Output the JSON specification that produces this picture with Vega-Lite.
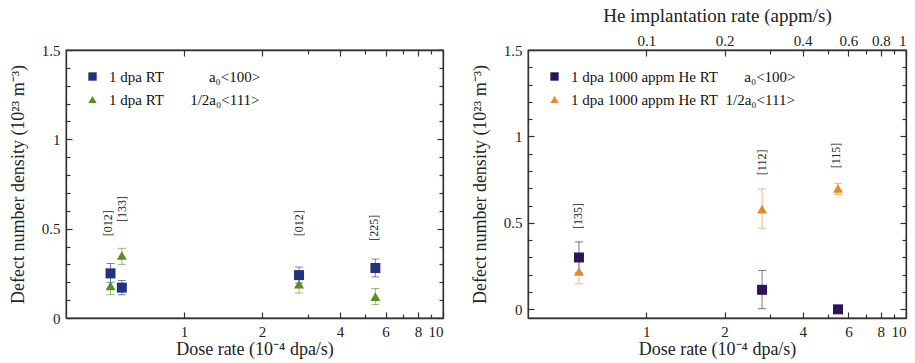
{
  "$schema": "https://vega.github.io/schema/vega-lite/v6.json",
  "padding": {"left": 8, "top": 5, "right": 0, "bottom": 0},
  "datasets": {
    "left": [
      {"loop": "a₀<100>", "dose": 0.52, "density": 0.25, "lo": 0.2, "hi": 0.305},
      {"loop": "a₀<100>", "dose": 0.575, "density": 0.17, "lo": 0.13, "hi": 0.21},
      {"loop": "a₀<100>", "dose": 2.78, "density": 0.24, "lo": 0.195, "hi": 0.285},
      {"loop": "a₀<100>", "dose": 5.48, "density": 0.28, "lo": 0.23, "hi": 0.33},
      {"loop": "1/2a₀<111>", "dose": 0.52, "density": 0.18, "lo": 0.13, "hi": 0.225},
      {"loop": "1/2a₀<111>", "dose": 0.575, "density": 0.35, "lo": 0.3, "hi": 0.39},
      {"loop": "1/2a₀<111>", "dose": 2.78, "density": 0.19, "lo": 0.14, "hi": 0.235},
      {"loop": "1/2a₀<111>", "dose": 5.48, "density": 0.12, "lo": 0.075, "hi": 0.165}
    ],
    "leftLabels": [
      {"dose": 0.51, "ypos": 0.53, "text": "[012]"},
      {"dose": 0.575, "ypos": 0.61, "text": "[133]"},
      {"dose": 2.78, "ypos": 0.53, "text": "[012]"},
      {"dose": 5.43, "ypos": 0.505, "text": "[225]"}
    ],
    "right": [
      {"loop": "a₀<100>", "dose": 0.55, "he": 0.055, "density": 0.3, "lo": 0.21, "hi": 0.39},
      {"loop": "a₀<100>", "dose": 2.79, "he": 0.279, "density": 0.113, "lo": 0.004, "hi": 0.225},
      {"loop": "a₀<100>", "dose": 5.47, "he": 0.547, "density": 0.0, "lo": 0.0, "hi": 0.0},
      {"loop": "1/2a₀<111>", "dose": 0.55, "he": 0.055, "density": 0.22, "lo": 0.148, "hi": 0.287},
      {"loop": "1/2a₀<111>", "dose": 2.79, "he": 0.279, "density": 0.58, "lo": 0.469, "hi": 0.696},
      {"loop": "1/2a₀<111>", "dose": 5.47, "he": 0.547, "density": 0.7, "lo": 0.664, "hi": 0.729}
    ],
    "rightLabels": [
      {"dose": 0.546, "ypos": 0.54, "text": "[135]"},
      {"dose": 2.79, "ypos": 0.85, "text": "[112]"},
      {"dose": 5.39, "ypos": 0.89, "text": "[115]"}
    ]
  },
  "hconcat": [
    {
      "width": 377,
      "height": 268,
      "data": {"name": "left"},
      "layer": [
        {
          "mark": {"type": "point", "filled": true, "size": 100, "opacity": 0},
          "encoding": {
            "x": {"field": "dose", "type": "quantitative", "scale": {"type": "log", "domain": [0.35, 10], "nice": false},
              "axis": {"orient": "bottom", "values": [1, 2, 4, 6, 8, 10], "format": "~g", "tickSize": -6, "labelPadding": 12, "title": "Dose rate (10⁻⁴ dpa/s)", "titlePadding": 1}},
            "y": {"field": "density", "type": "quantitative", "scale": {"domain": [0, 1.5], "nice": false, "zero": false},
              "axis": {"orient": "left", "values": [0, 0.5, 1, 1.5], "format": "~g", "tickSize": -6, "labelPadding": 12, "title": "Defect number density (10²³ m⁻³)", "titlePadding": 14}},
            "color": {"field": "loop", "type": "nominal", "scale": {"domain": ["a₀<100>", "1/2a₀<111>"], "range": ["#23327e", "#5a8e22"]},
              "legend": {"orient": "none", "legendX": 19, "legendY": 19, "title": null, "padding": 0, "rowPadding": 7, "symbolSize": 70, "symbolOpacity": 1, "labelOffset": 9, "labelFontSize": 15, "labelFont": "Liberation Serif", "labelColor": "#111", "labelLimit": 400, "symbolStrokeWidth": 0,
              "labelExpr": "'1 dpa RT' + (datum.value == 'a₀<100>' ? '\u00a0\u00a0\u00a0\u00a0\u00a0\u00a0\u00a0\u00a0\u00a0\u00a0\u00a0\u00a0' : '\u00a0\u00a0\u00a0\u00a0\u00a0\u00a0\u00a0') + datum.label"}},
            "shape": {"field": "loop", "type": "nominal", "scale": {"domain": ["a₀<100>", "1/2a₀<111>"], "range": ["square", "triangle-up"]},
              "legend": {"orient": "none", "legendX": 19, "legendY": 19, "title": null, "padding": 0, "rowPadding": 7, "symbolSize": 70, "symbolOpacity": 1, "labelOffset": 9, "labelFontSize": 15, "labelFont": "Liberation Serif", "labelColor": "#111", "labelLimit": 400, "symbolStrokeWidth": 0,
              "labelExpr": "'1 dpa RT' + (datum.value == 'a₀<100>' ? '\u00a0\u00a0\u00a0\u00a0\u00a0\u00a0\u00a0\u00a0\u00a0\u00a0\u00a0\u00a0' : '\u00a0\u00a0\u00a0\u00a0\u00a0\u00a0\u00a0') + datum.label"}}
          }
        },
        {
          "mark": {"type": "point", "opacity": 0},
          "encoding": {
            "x": {"field": "dose", "type": "quantitative", "axis": {"orient": "top", "values": [1, 2, 4, 6, 8, 10], "tickSize": -6, "labels": false, "title": null}},
            "y": {"field": "density", "type": "quantitative", "axis": {"orient": "right", "values": [0, 0.5, 1, 1.5], "tickSize": -6, "labels": false, "title": null}}
          }
        },
        {
          "mark": {"type": "point", "opacity": 0},
          "encoding": {
            "x": {"field": "dose", "type": "quantitative", "axis": {"orient": "bottom", "values": [3, 5, 7, 9], "tickSize": -4, "labels": false, "title": null, "domain": false}},
            "y": {"field": "density", "type": "quantitative", "axis": {"orient": "left", "values": [0.1, 0.2, 0.3, 0.4, 0.6, 0.7, 0.8, 0.9, 1.1, 1.2, 1.3, 1.4], "tickSize": -4, "labels": false, "title": null, "domain": false}}
          }
        },
        {
          "mark": {"type": "point", "opacity": 0},
          "encoding": {
            "x": {"field": "dose", "type": "quantitative", "axis": {"orient": "top", "values": [3, 5, 7, 9], "tickSize": -4, "labels": false, "title": null, "domain": false}},
            "y": {"field": "density", "type": "quantitative", "axis": {"orient": "right", "values": [0.1, 0.2, 0.3, 0.4, 0.6, 0.7, 0.8, 0.9, 1.1, 1.2, 1.3, 1.4], "tickSize": -4, "labels": false, "title": null, "domain": false}}
          }
        },
        {
          "mark": {"type": "rule", "strokeWidth": 1, "opacity": 0.6},
          "encoding": {
            "x": {"field": "dose", "type": "quantitative", "axis": null},
            "y": {"field": "lo", "type": "quantitative", "axis": null},
            "y2": {"field": "hi"},
            "stroke": {"field": "loop", "type": "nominal", "scale": {"domain": ["a₀<100>", "1/2a₀<111>"], "range": ["#23327e", "#5a8e22"]}, "legend": null}
          }
        },
        {
          "mark": {"type": "point", "shape": "stroke", "size": 64, "strokeWidth": 1, "opacity": 0.6},
          "encoding": {
            "x": {"field": "dose", "type": "quantitative", "axis": null},
            "y": {"field": "lo", "type": "quantitative", "axis": null},
            "stroke": {"field": "loop", "type": "nominal", "legend": null}
          }
        },
        {
          "mark": {"type": "point", "shape": "stroke", "size": 64, "strokeWidth": 1, "opacity": 0.6},
          "encoding": {
            "x": {"field": "dose", "type": "quantitative", "axis": null},
            "y": {"field": "hi", "type": "quantitative", "axis": null},
            "stroke": {"field": "loop", "type": "nominal", "legend": null}
          }
        },
        {
          "mark": {"type": "point", "filled": true, "size": 100, "opacity": 1},
          "encoding": {
            "x": {"field": "dose", "type": "quantitative", "axis": null},
            "y": {"field": "density", "type": "quantitative", "axis": null},
            "color": {"field": "loop", "type": "nominal", "legend": null},
            "shape": {"field": "loop", "type": "nominal", "legend": null}
          }
        },
        {
          "data": {"name": "leftLabels"},
          "mark": {"type": "text", "angle": 270, "fontSize": 12, "font": "Liberation Serif", "color": "#222", "align": "center", "baseline": "middle"},
          "encoding": {
            "x": {"field": "dose", "type": "quantitative", "axis": null},
            "y": {"field": "ypos", "type": "quantitative", "axis": null},
            "text": {"field": "text"}
          }
        }
      ],
      "resolve": {"axis": {"x": "independent", "y": "independent"}}
    },
    {
      "width": 378,
      "height": 268,
      "data": {"name": "right"},
      "layer": [
        {
          "mark": {"type": "point", "filled": true, "size": 100, "opacity": 0},
          "encoding": {
            "x": {"field": "dose", "type": "quantitative", "scale": {"type": "log", "domain": [0.35, 10], "nice": false},
              "axis": {"orient": "bottom", "values": [1, 2, 4, 6, 8, 10], "format": "~g", "tickSize": -6, "labelPadding": 12, "labelFlush": true, "title": "Dose rate (10⁻⁴ dpa/s)", "titlePadding": 1}},
            "y": {"field": "density", "type": "quantitative", "scale": {"domain": [-0.05, 1.5], "nice": false, "zero": false},
              "axis": {"orient": "left", "values": [0, 0.5, 1, 1.5], "format": "~g", "tickSize": -6, "labelPadding": 12, "title": "Defect number density (10²³ m⁻³)", "titlePadding": 14}},
            "color": {"field": "loop", "type": "nominal", "scale": {"domain": ["a₀<100>", "1/2a₀<111>"], "range": ["#2d1358", "#e38a2c"]},
              "legend": {"orient": "none", "legendX": 19, "legendY": 19, "title": null, "padding": 0, "rowPadding": 7, "symbolSize": 70, "symbolOpacity": 1, "labelOffset": 9, "labelFontSize": 15, "labelFont": "Liberation Serif", "labelColor": "#111", "labelLimit": 400, "symbolStrokeWidth": 0,
              "labelExpr": "'1 dpa 1000 appm He RT' + (datum.value == 'a₀<100>' ? '\u00a0\u00a0\u00a0\u00a0\u00a0\u00a0\u00a0' : '\u00a0\u00a0') + datum.label"}},
            "shape": {"field": "loop", "type": "nominal", "scale": {"domain": ["a₀<100>", "1/2a₀<111>"], "range": ["square", "triangle-up"]},
              "legend": {"orient": "none", "legendX": 19, "legendY": 19, "title": null, "padding": 0, "rowPadding": 7, "symbolSize": 70, "symbolOpacity": 1, "labelOffset": 9, "labelFontSize": 15, "labelFont": "Liberation Serif", "labelColor": "#111", "labelLimit": 400, "symbolStrokeWidth": 0,
              "labelExpr": "'1 dpa 1000 appm He RT' + (datum.value == 'a₀<100>' ? '\u00a0\u00a0\u00a0\u00a0\u00a0\u00a0\u00a0' : '\u00a0\u00a0') + datum.label"}}
          }
        },
        {
          "mark": {"type": "point", "opacity": 0},
          "encoding": {
            "x": {"field": "he", "type": "quantitative", "scale": {"type": "log", "domain": [0.035, 1], "nice": false},
              "axis": {"orient": "top", "values": [0.1, 0.2, 0.4, 0.6, 0.8, 1], "format": "~g", "tickSize": -6, "labelPadding": 8, "title": "He implantation rate (appm/s)", "titlePadding": 8, "titleFontSize": 19}},
            "y": {"field": "density", "type": "quantitative", "axis": {"orient": "right", "values": [0, 0.5, 1, 1.5], "tickSize": -6, "labels": false, "title": null}}
          }
        },
        {
          "mark": {"type": "point", "opacity": 0},
          "encoding": {
            "x": {"field": "dose", "type": "quantitative", "scale": {"type": "log", "domain": [0.35, 10], "nice": false}, "axis": {"orient": "bottom", "values": [3, 5, 7, 9], "tickSize": -4, "labels": false, "title": null, "domain": false}},
            "y": {"field": "density", "type": "quantitative", "axis": {"orient": "left", "values": [0.1, 0.2, 0.3, 0.4, 0.6, 0.7, 0.8, 0.9, 1.1, 1.2, 1.3, 1.4], "tickSize": -4, "labels": false, "title": null, "domain": false}}
          }
        },
        {
          "mark": {"type": "point", "opacity": 0},
          "encoding": {
            "x": {"field": "he", "type": "quantitative", "scale": {"type": "log", "domain": [0.035, 1], "nice": false},
              "axis": {"orient": "top", "values": [0.3, 0.5, 0.7, 0.9], "tickSize": -4, "labels": false, "title": null, "domain": false}},
            "y": {"field": "density", "type": "quantitative", "axis": {"orient": "right", "values": [0.1, 0.2, 0.3, 0.4, 0.6, 0.7, 0.8, 0.9, 1.1, 1.2, 1.3, 1.4], "tickSize": -4, "labels": false, "title": null, "domain": false}}
          }
        },
        {
          "mark": {"type": "rule", "strokeWidth": 1, "opacity": 0.6},
          "encoding": {
            "x": {"field": "dose", "type": "quantitative", "scale": {"type": "log", "domain": [0.35, 10], "nice": false}, "axis": null},
            "y": {"field": "lo", "type": "quantitative", "axis": null},
            "y2": {"field": "hi"},
            "stroke": {"field": "loop", "type": "nominal", "scale": {"domain": ["a₀<100>", "1/2a₀<111>"], "range": ["#2d1358", "#e38a2c"]}, "legend": null}
          }
        },
        {
          "mark": {"type": "point", "shape": "stroke", "size": 64, "strokeWidth": 1, "opacity": 0.6},
          "encoding": {
            "x": {"field": "dose", "type": "quantitative", "scale": {"type": "log", "domain": [0.35, 10], "nice": false}, "axis": null},
            "y": {"field": "lo", "type": "quantitative", "axis": null},
            "stroke": {"field": "loop", "type": "nominal", "legend": null}
          }
        },
        {
          "mark": {"type": "point", "shape": "stroke", "size": 64, "strokeWidth": 1, "opacity": 0.6},
          "encoding": {
            "x": {"field": "dose", "type": "quantitative", "scale": {"type": "log", "domain": [0.35, 10], "nice": false}, "axis": null},
            "y": {"field": "hi", "type": "quantitative", "axis": null},
            "stroke": {"field": "loop", "type": "nominal", "legend": null}
          }
        },
        {
          "mark": {"type": "point", "filled": true, "size": 100, "opacity": 1},
          "encoding": {
            "x": {"field": "dose", "type": "quantitative", "scale": {"type": "log", "domain": [0.35, 10], "nice": false}, "axis": null},
            "y": {"field": "density", "type": "quantitative", "axis": null},
            "color": {"field": "loop", "type": "nominal", "legend": null},
            "shape": {"field": "loop", "type": "nominal", "legend": null}
          }
        },
        {
          "data": {"name": "rightLabels"},
          "mark": {"type": "text", "angle": 270, "fontSize": 12, "font": "Liberation Serif", "color": "#222", "align": "center", "baseline": "middle"},
          "encoding": {
            "x": {"field": "dose", "type": "quantitative", "scale": {"type": "log", "domain": [0.35, 10], "nice": false}, "axis": null},
            "y": {"field": "ypos", "type": "quantitative", "axis": null},
            "text": {"field": "text"}
          }
        }
      ],
      "resolve": {"scale": {"x": "independent"}, "axis": {"x": "independent", "y": "independent"}}
    }
  ],
  "spacing": 85,
  "bounds": "flush",
  "resolve": {
    "scale": {"x": "independent", "y": "independent", "color": "independent", "shape": "independent", "stroke": "independent"},
    "legend": {"color": "independent", "shape": "independent", "stroke": "independent"}
  },
  "config": {
    "font": "Liberation Serif",
    "view": {"stroke": "#333", "strokeWidth": 1.3},
    "axis": {
      "grid": false,
      "domainColor": "#333",
      "domainWidth": 1.3,
      "tickColor": "#333",
      "tickWidth": 1.2,
      "labelFont": "Liberation Serif",
      "labelFontSize": 15,
      "labelColor": "#222",
      "titleFont": "Liberation Serif",
      "titleFontSize": 18,
      "titleFontWeight": "normal",
      "titleColor": "#222"
    }
  }
}
